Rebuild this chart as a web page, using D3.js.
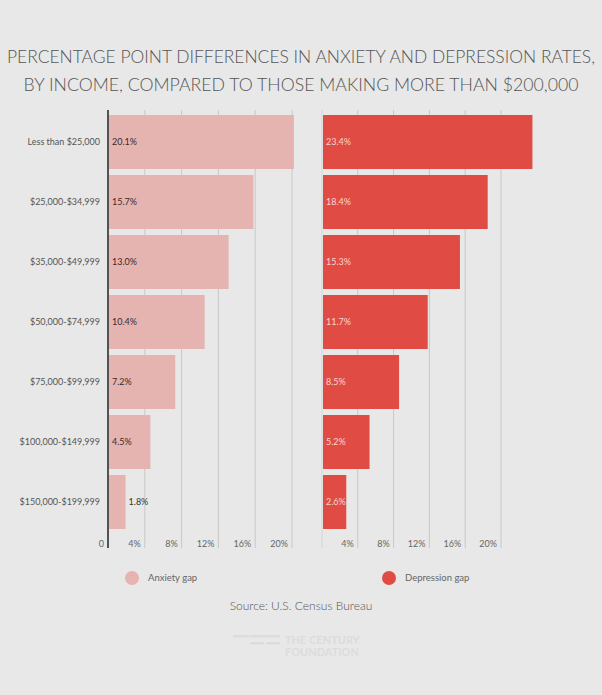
<!DOCTYPE html>
<html><head><meta charset="utf-8">
<script src="https://cdn.jsdelivr.net/npm/d3@7"></script>
<style>body{margin:0;background:#e8e8e8;font-family:Lato,"Open Sans",sans-serif}</style>
</head><body><div id="chart"></div>
<script>
// Chart data
var categories = ["Less than $25,000","$25,000-$34,999","$35,000-$49,999","$50,000-$74,999","$75,000-$99,999","$100,000-$149,999","$150,000-$199,999"];
var anxiety = [20.1, 15.7, 13.0, 10.4, 7.2, 4.5, 1.8];
var depression = [23.4, 18.4, 15.3, 11.7, 8.5, 5.2, 2.6];
var ticks = [4, 8, 12, 16, 20];

var width = 602, height = 695;
var svg = d3.select("#chart").append("svg").attr("width", width).attr("height", height);
svg.append("rect").attr("width", width).attr("height", height).attr("fill", "#e8e8e8");

// title
svg.append("text").attr("x", 301).attr("y", 63).attr("text-anchor", "middle")
  .attr("font-size", 17.5).attr("font-weight", 300).attr("fill", "#555")
  .attr("textLength", 588).attr("lengthAdjust", "spacingAndGlyphs")
  .text("PERCENTAGE POINT DIFFERENCES IN ANXIETY AND DEPRESSION RATES,");
svg.append("text").attr("x", 301).attr("y", 91).attr("text-anchor", "middle")
  .attr("font-size", 17.5).attr("font-weight", 300).attr("fill", "#555")
  .attr("textLength", 555).attr("lengthAdjust", "spacingAndGlyphs")
  .text("BY INCOME, COMPARED TO THOSE MAKING MORE THAN $200,000");

var y = d3.scaleBand().domain(categories).range([112, 532]).paddingInner(0.1).paddingOuter(0.05);

function panel(x0, x1, values, color, textColor, showCats) {
  var x = d3.scaleLinear().domain([0, 20]).range([x0, x1]);
  var g = svg.append("g");
  // grid lines
  g.selectAll(".grid").data(ticks).enter().append("line")
    .attr("x1", d => x(d)).attr("x2", d => x(d))
    .attr("y1", 110).attr("y2", 548).attr("stroke", "#c8c8c8").attr("stroke-width", 1);
  // tick labels
  g.selectAll(".tick").data(ticks).enter().append("text")
    .attr("x", d => x(d) - 4).attr("y", 547).attr("text-anchor", "end")
    .attr("font-size", 9).attr("fill", "#666").text(d => d + "%");
  g.selectAll(".bar").data(values).enter().append("rect")
    .attr("x", x0 + 1).attr("y", (d, i) => y(categories[i]))
    .attr("width", d => x(d) - x0).attr("height", y.bandwidth()).attr("fill", color);
  g.selectAll(".val").data(values).enter().append("text")
    .attr("x", d => (x(d) - x0 < 22 ? x(d) + 4 : x0 + 4))
    .attr("y", (d, i) => y(categories[i]) + y.bandwidth() / 2 + 3)
    .attr("font-size", 9)
    .attr("fill", d => (x(d) - x0 < 22 ? "#333" : textColor))
    .text(d => d.toFixed(1) + "%");
  if (showCats) {
    g.selectAll(".cat").data(categories).enter().append("text")
      .attr("x", x0 - 8).attr("y", d => y(d) + y.bandwidth() / 2 + 3)
      .attr("text-anchor", "end").attr("font-size", 9).attr("fill", "#555").text(d => d);
    g.append("line").attr("x1", x0).attr("x2", x0).attr("y1", 110).attr("y2", 548)
      .attr("stroke", "#222").attr("stroke-width", 1.5);
    g.append("text").attr("x", x0 - 4).attr("y", 547).attr("text-anchor", "end")
      .attr("font-size", 9).attr("fill", "#666").text("0");
  } else {
    g.append("line").attr("x1", x0).attr("x2", x0).attr("y1", 110).attr("y2", 548)
      .attr("stroke", "#d4d4d4").attr("stroke-width", 1);
  }
}
panel(108, 292, anxiety, "#e6b4b0", "#3a2a2a", true);
panel(322, 501, depression, "#e04c43", "#f6d6d3", false);

// legend
var legend = [["Anxiety gap", "#e6b4b0", 132], ["Depression gap", "#e04c43", 389]];
legend.forEach(function (l) {
  svg.append("circle").attr("cx", l[2]).attr("cy", 578).attr("r", 7).attr("fill", l[1]);
  svg.append("text").attr("x", l[2] + 16).attr("y", 581).attr("font-size", 9.5).attr("fill", "#666").text(l[0]);
});

svg.append("text").attr("x", 301).attr("y", 610).attr("text-anchor", "middle")
  .attr("font-size", 12).attr("font-weight", 300).attr("fill", "#555").text("Source: U.S. Census Bureau");

// faint logo
var logo = svg.append("g").attr("fill", "#dcdcdc");
[[233, 635, 16], [250, 635, 16], [266, 635, 14], [250, 642, 14], [266, 642, 14]].forEach(function (r) {
  logo.append("rect").attr("x", r[0]).attr("y", r[1]).attr("width", r[2]).attr("height", 2.5);
});
logo.append("text").attr("x", 285).attr("y", 644).attr("font-size", 11).attr("font-weight", 700).text("THE CENTURY");
logo.append("text").attr("x", 285).attr("y", 656).attr("font-size", 11).attr("font-weight", 700).text("FOUNDATION");
</script></body></html>
